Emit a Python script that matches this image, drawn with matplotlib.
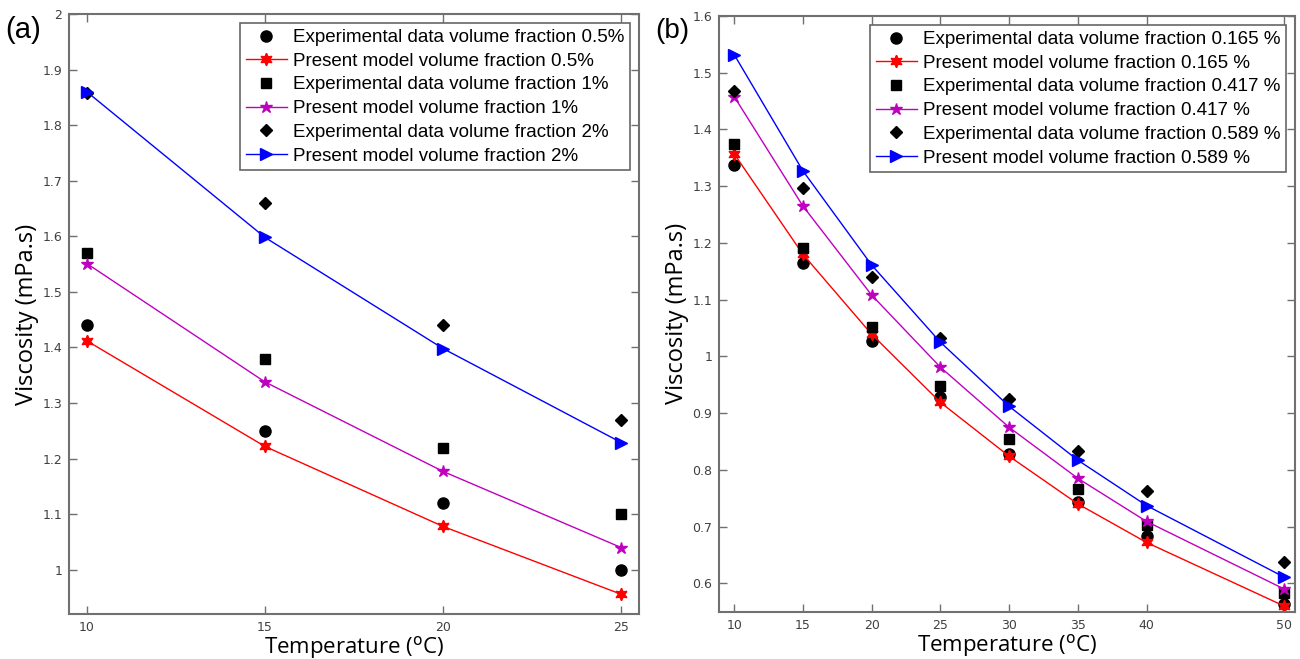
# Viscosity vs temperature: experimental data and present model
import numpy as np
import matplotlib.pyplot as plt

# ---- panel (a) data ----
temp_a = [10, 15, 20, 25]
exp_a_05 = [1.44, 1.25, 1.12, 1.00]
mod_a_05 = [1.412, 1.222, 1.078, 0.956]
exp_a_1 = [1.57, 1.38, 1.22, 1.10]
mod_a_1 = [1.551, 1.338, 1.177, 1.040]
exp_a_2 = [1.857, 1.66, 1.44, 1.27]
mod_a_2 = [1.860, 1.598, 1.398, 1.229]
labels_a = ['0.5%', '1%', '2%']

# ---- panel (b) data ----
temp_b = [10, 15, 20, 25, 30, 35, 40, 50]
exp_b_165 = [1.338, 1.165, 1.027, 0.928, 0.828, 0.744, 0.684, 0.564]
mod_b_165 = [1.357, 1.180, 1.039, 0.919, 0.824, 0.740, 0.672, 0.560]
exp_b_417 = [1.375, 1.191, 1.052, 0.948, 0.855, 0.766, 0.702, 0.583]
mod_b_417 = [1.458, 1.265, 1.108, 0.981, 0.875, 0.785, 0.709, 0.590]
exp_b_589 = [1.467, 1.296, 1.140, 1.032, 0.925, 0.834, 0.763, 0.637]
mod_b_589 = [1.532, 1.327, 1.161, 1.025, 0.912, 0.817, 0.737, 0.611]
labels_b = ['0.165 %', '0.417 %', '0.589 %']

hexagram = (6, 1, 0)
frame_col = '#707070'
tick_col = '#404040'


def style_axes(ax):
    for s in ax.spines.values():
        s.set_color(frame_col)
        s.set_linewidth(1.5)
    ax.tick_params(direction='in', top=True, right=True, length=6,
                   width=1, color=frame_col, labelcolor=tick_col,
                   labelsize=9, pad=5)
    ax.set_xlabel('Temperature ($^{\\mathrm{o}}$C)', fontsize=16,
                  family='Open Sans', labelpad=0)
    ax.set_ylabel('Viscosity (mPa.s)', fontsize=17, family='Open Sans',
                  labelpad=2)


def draw(ax, t, exps, mods, labels):
    exp_markers = ['o', 's', 'D']
    exp_sizes = [8, 7, 6]
    mod_markers = [hexagram, '*', '>']
    mod_sizes = [9, 9, 9]
    colors = ['red', 'm', 'blue']
    for i in range(3):
        ax.plot(t, exps[i], linestyle='none', marker=exp_markers[i],
                markersize=exp_sizes[i], color='black',
                label='Experimental data volume fraction ' + labels[i])
        ax.plot(t, mods[i], color=colors[i], linewidth=1,
                marker=mod_markers[i], markersize=mod_sizes[i],
                label='Present model volume fraction ' + labels[i])


fig = plt.figure(figsize=(13, 6.59), dpi=100)
ax1 = fig.add_axes([0.0531, 0.0678, 0.4385, 0.911])
ax2 = fig.add_axes([0.5531, 0.0718, 0.4431, 0.904])

draw(ax1, temp_a, [exp_a_05, exp_a_1, exp_a_2],
     [mod_a_05, mod_a_1, mod_a_2], labels_a)
ax1.set_xlim(9.5, 25.5)
ax1.set_ylim(0.92, 2.0)
ax1.set_xticks(temp_a)
ax1.set_yticks(np.arange(1.0, 2.01, 0.1))
ax1.set_yticklabels(['1', '1.1', '1.2', '1.3', '1.4', '1.5', '1.6',
                     '1.7', '1.8', '1.9', '2'])
style_axes(ax1)

draw(ax2, temp_b, [exp_b_165, exp_b_417, exp_b_589],
     [mod_b_165, mod_b_417, mod_b_589], labels_b)
ax2.set_xlim(8.9, 50.8)
ax2.set_ylim(0.55, 1.6)
ax2.set_xticks(temp_b)
ax2.set_yticks(np.arange(0.6, 1.61, 0.1))
ax2.set_yticklabels(['0.6', '0.7', '0.8', '0.9', '1', '1.1', '1.2',
                     '1.3', '1.4', '1.5', '1.6'])
style_axes(ax2)

for ax in (ax1, ax2):
    leg = ax.legend(loc='upper right', frameon=True, fancybox=False,
                    edgecolor='#404040', handlelength=2.2,
                    handletextpad=0.3, labelspacing=0.35, borderpad=0.3,
                    borderaxespad=0.5,
                    prop={'family': 'Liberation Sans', 'size': 13.5})
    leg.get_frame().set_linewidth(1.2)

fig.text(0.004, 0.975, '(a)', fontsize=21, family='Liberation Sans',
         va='top', ha='left')
fig.text(0.504, 0.972, '(b)', fontsize=20, family='Liberation Sans',
         va='top', ha='left')

fig.savefig('out.png', dpi=100)
